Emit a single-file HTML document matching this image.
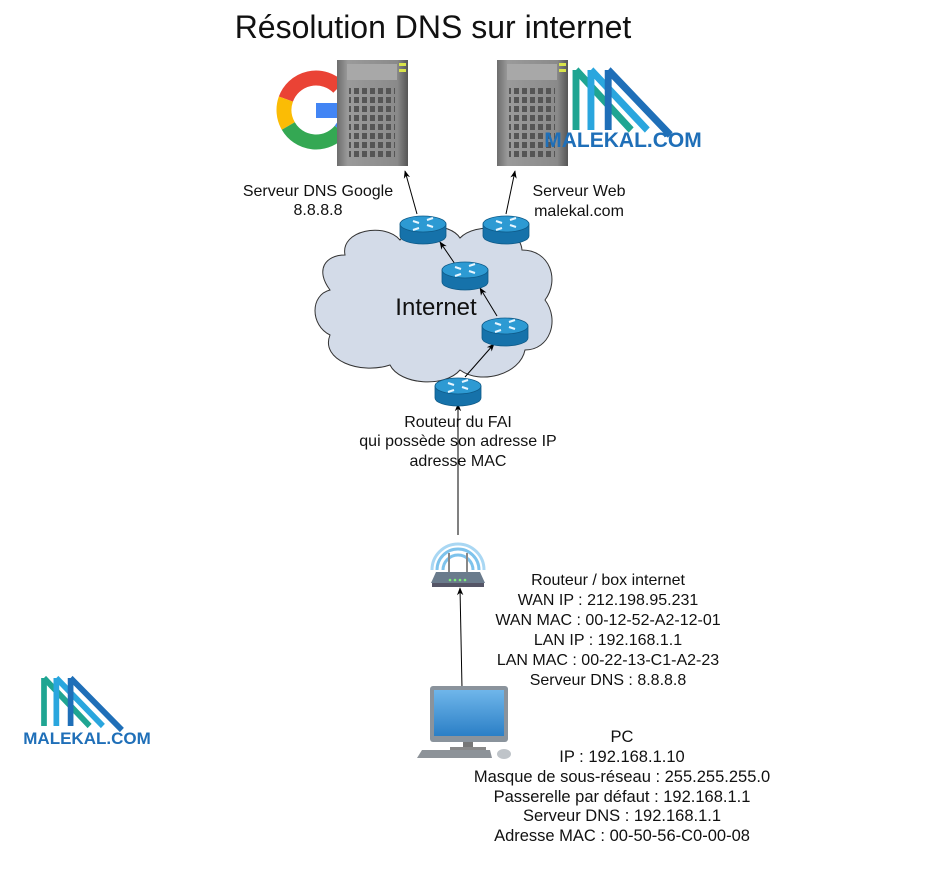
<!DOCTYPE html>
<html><head><meta charset="utf-8"><style>
html,body{margin:0;padding:0;background:#fff;}
svg{display:block;}
text{font-family:"Liberation Sans",sans-serif;fill:#111;}
</style></head><body>
<svg width="944" height="883" viewBox="0 0 944 883" xmlns="http://www.w3.org/2000/svg">
<defs>
<linearGradient id="srv" x1="0" x2="1"><stop offset="0" stop-color="#6d6d6d"/><stop offset="0.15" stop-color="#9a9a9a"/><stop offset="0.85" stop-color="#8a8a8a"/><stop offset="1" stop-color="#555"/></linearGradient>
<linearGradient id="mon" x1="0" y1="0" x2="0" y2="1"><stop offset="0" stop-color="#6fb6ea"/><stop offset="1" stop-color="#2b7fc6"/></linearGradient>
<pattern id="grid" width="8" height="9" patternUnits="userSpaceOnUse"><rect x="1" y="1" width="5" height="6" fill="#555"/></pattern>
<marker id="ar" viewBox="0 0 10 10" refX="9" refY="5" markerWidth="8" markerHeight="8" orient="auto"><path d="M0,1 L10,5 L0,9 L3,5 z" fill="#000"/></marker>
<g id="router">
<path d="M-23,-6 L-23,6 A23,8 0 0 0 23,6 L23,-6 Z" fill="#1672aa" stroke="#0e5a88" stroke-width="0.8"/>
<ellipse cx="0" cy="-6" rx="23" ry="8" fill="#2d9ad3" stroke="#0e5a88" stroke-width="0.8"/>
<path d="M-10,-9 l6,2 M10,-3 l-6,-2 M-4,-2 l-6,2 M4,-10 l6,-2" stroke="#e8f6ff" stroke-width="2"/>
</g>
<g id="server">
<rect x="0" y="0" width="71" height="106" fill="url(#srv)"/>
<rect x="10" y="4" width="50" height="16" fill="#a8a8a8"/>
<rect x="12" y="28" width="46" height="72" fill="url(#grid)"/>
<rect x="62" y="3" width="7" height="3" fill="#d9e34a"/><rect x="62" y="9" width="7" height="3" fill="#d9e34a"/>
</g>
<g id="logo">
<path d="M0,0 L0,48 M0,0 L48,48" stroke="#1fa592" stroke-width="6" fill="none"/>
<path d="M13,0 L13,48 M13,0 L62,48" stroke="#2aa6de" stroke-width="6" fill="none"/>
<path d="M28,0 L28,48 M28,0 L82,52" stroke="#1f6fb8" stroke-width="6" fill="none"/>
</g>
</defs>

<text x="433" y="38" font-size="32" text-anchor="middle">Résolution DNS sur internet</text>

<!-- Google G -->
<g fill="none" stroke-width="15">
<path d="M338.6,87.4 A32,32 0 0 0 285.9,99.1" stroke="#ea4335"/>
<path d="M285.9,99.1 A32,32 0 0 0 288.3,126" stroke="#fbbc05"/>
<path d="M288.3,126 A32,32 0 0 0 340.5,130.6" stroke="#34a853"/>
<path d="M340.5,130.6 A32,32 0 0 0 348,110" stroke="#4285f4"/>
</g>
<rect x="316" y="103" width="40" height="15" fill="#4285f4"/>
<use href="#server" x="337" y="60"/>
<use href="#server" x="497" y="60"/>
<g transform="translate(576,70) scale(1.15,1.25)"><use href="#logo"/></g>
<text x="623" y="147" font-size="21" font-weight="bold" style="fill:#1f6fb8" text-anchor="middle">MALEKAL.COM</text>

<g font-size="16" text-anchor="middle">
<text x="318" y="196">Serveur DNS Google</text>
<text x="318" y="215">8.8.8.8</text>
<text x="579" y="196">Serveur Web</text>
<text x="579" y="216">malekal.com</text>
</g>

<!-- cloud -->
<path d="M345,255 C340,230 385,222 400,240 C410,222 450,222 460,238 C475,222 520,225 522,250 C550,250 560,280 545,300 C560,320 550,350 525,350 C520,375 480,385 460,370 C445,388 400,385 390,365 C360,375 320,360 330,335 C310,325 310,295 330,290 C315,270 325,255 345,255 Z" fill="#d3dbe8" stroke="#333" stroke-width="1"/>
<text x="436" y="315" font-size="24" text-anchor="middle">Internet</text>

<!-- arrows -->
<line x1="417" y1="214" x2="405" y2="171" stroke="#000" marker-end="url(#ar)"/>
<line x1="506" y1="214" x2="515" y2="171" stroke="#000" marker-end="url(#ar)"/>
<line x1="455" y1="264" x2="440" y2="242" stroke="#000" marker-end="url(#ar)"/>
<line x1="497" y1="316" x2="480" y2="288" stroke="#000" marker-end="url(#ar)"/>
<line x1="465" y1="377" x2="494" y2="344" stroke="#000" marker-end="url(#ar)"/>
<line x1="458" y1="535" x2="458" y2="404" stroke="#000" marker-end="url(#ar)"/>
<line x1="462" y1="688" x2="460" y2="588" stroke="#000" marker-end="url(#ar)"/>

<use href="#router" x="423" y="230"/>
<use href="#router" x="506" y="230"/>
<use href="#router" x="465" y="276"/>
<use href="#router" x="505" y="332"/>
<use href="#router" x="458" y="392"/>

<g font-size="16" text-anchor="middle">
<text x="458" y="427">Routeur du FAI</text>
<text x="458" y="446">qui possède son adresse IP</text>
<text x="458" y="466">adresse MAC</text>
</g>

<!-- wifi box -->
<g fill="none" stroke="#7ec3ec" stroke-width="3">
<path d="M437,570 A21,21 0 0 1 479,570"/>
<path d="M443,570 A15,15 0 0 1 473,570"/>
<path d="M432,570 A26,26 0 0 1 484,570" stroke="#a9d7f3"/>
</g>
<line x1="449" y1="553" x2="449" y2="572" stroke="#888" stroke-width="2"/>
<line x1="467" y1="553" x2="467" y2="572" stroke="#888" stroke-width="2"/>
<path d="M436,572 L480,572 L485,583 L431,583 Z" fill="#6a7b8c"/>
<rect x="432" y="583" width="52" height="4" fill="#556"/>
<g fill="#7df07a"><circle cx="450" cy="580" r="1.3"/><circle cx="455" cy="580" r="1.3"/><circle cx="460" cy="580" r="1.3"/><circle cx="465" cy="580" r="1.3"/></g>

<g font-size="16" text-anchor="middle">
<text x="608" y="585">Routeur / box internet</text>
<text x="608" y="605">WAN IP : 212.198.95.231</text>
<text x="608" y="625">WAN MAC : 00-12-52-A2-12-01</text>
<text x="608" y="645">LAN IP : 192.168.1.1</text>
<text x="608" y="665">LAN MAC : 00-22-13-C1-A2-23</text>
<text x="608" y="685">Serveur DNS : 8.8.8.8</text>
</g>

<!-- PC -->
<rect x="430" y="686" width="78" height="56" rx="3" fill="#8a939c"/>
<rect x="434" y="690" width="70" height="46" fill="url(#mon)"/>
<rect x="463" y="742" width="10" height="6" fill="#777"/>
<rect x="450" y="747" width="36" height="3" fill="#888"/>
<path d="M422,750 L490,750 L492,758 L417,758 Z" fill="#8d9399"/>
<ellipse cx="504" cy="754" rx="7" ry="5" fill="#bfc4c9"/>

<g font-size="16.5" text-anchor="middle">
<text x="622" y="742">PC</text>
<text x="622" y="762">IP : 192.168.1.10</text>
<text x="622" y="782">Masque de sous-réseau : 255.255.255.0</text>
<text x="622" y="802">Passerelle par défaut : 192.168.1.1</text>
<text x="622" y="821">Serveur DNS : 192.168.1.1</text>
<text x="622" y="841">Adresse MAC : 00-50-56-C0-00-08</text>
</g>

<!-- left logo -->
<g transform="translate(44,678) scale(0.95,1)"><use href="#logo"/></g>
<text x="87" y="744" font-size="17" font-weight="bold" style="fill:#1f6fb8" text-anchor="middle">MALEKAL.COM</text>
</svg>
</body></html>
